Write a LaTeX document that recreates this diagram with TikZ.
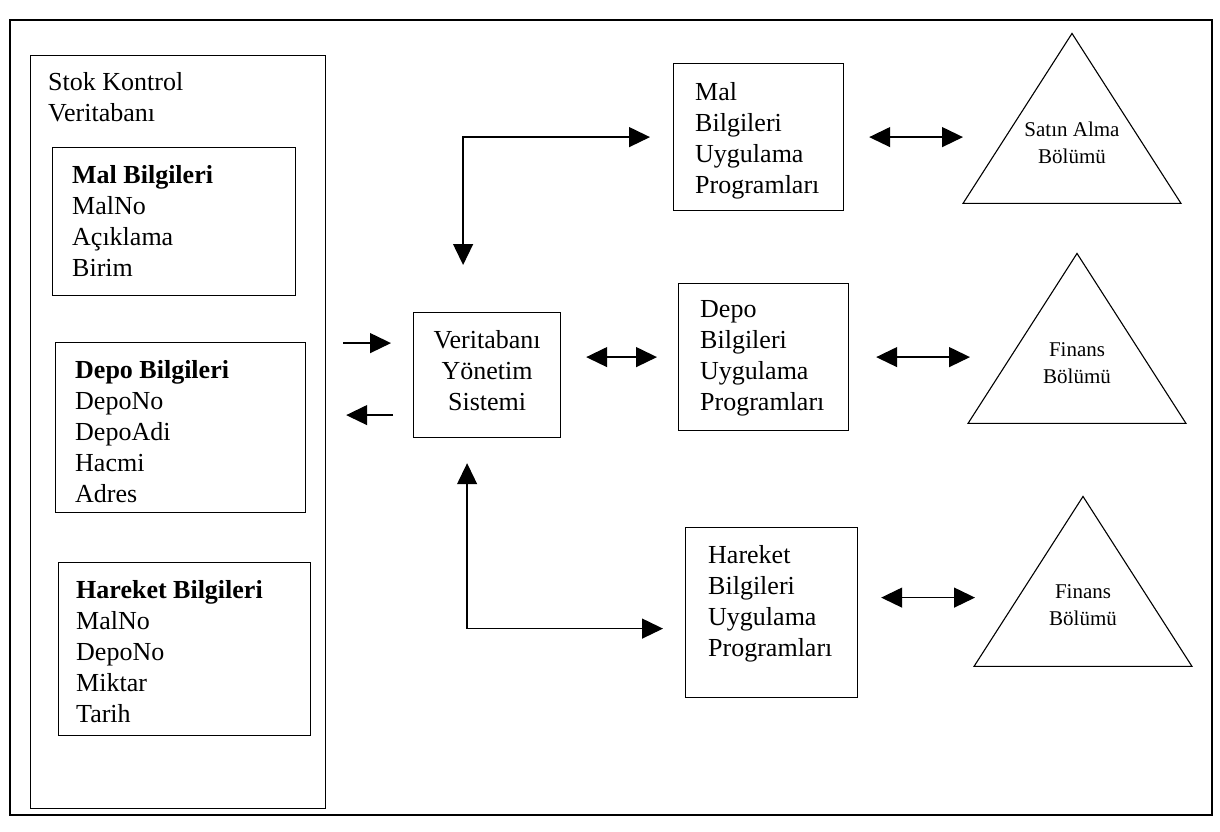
\documentclass[tikz,border=0pt]{standalone}
\usepackage{fontspec}
\setmainfont{Liberation Serif}
\usetikzlibrary{arrows.meta,positioning,shapes.geometric,calc}

\tikzset{
	box/.style={draw, line width=1.2pt, anchor=north west, inner sep=0pt},
	fields/.style={align=left, inner sep=0pt, font=\fontsize{26}{31}\selectfont},
	tri/.style={draw, line width=1.1pt, isosceles triangle, isosceles triangle stretches,
		shape border rotate=90, minimum width=218pt, minimum height=170pt, inner sep=0pt, anchor=apex},
	trilabel/.style={align=center, inner sep=0pt, font=\fontsize{21}{27}\selectfont},
	arr/.style={line width=1.3pt, -{Triangle[length=21pt,width=20pt]}},
	dbl/.style={line width=1.3pt, {Triangle[length=21pt,width=20pt]}-{Triangle[length=21pt,width=20pt]}}
}

\begin{document}
\begin{tikzpicture}[x=1pt,y=-1pt]
	\useasboundingbox (0,0) rectangle (1220,832);
	\draw[line width=1.8pt] (10,20) rectangle (1212,815);

	\node[box,minimum width=295pt,minimum height=753pt] (db) at (30,55) {};
	\node[fields,below right=17pt and 18pt of db.north west] (db-t) {Stok Kontrol\\Veritabanı};
	\node[box,minimum width=243pt,minimum height=148pt] (mal) at (52,147) {};
	\node[fields,below right=18pt and 20pt of mal.north west] (mal-t) {\textbf{Mal Bilgileri}\\MalNo\\Açıklama\\Birim};
	\node[box,minimum width=250pt,minimum height=170pt] (depo) at (55,342) {};
	\node[fields,below right=18pt and 20pt of depo.north west] (depo-t) {\textbf{Depo Bilgileri}\\DepoNo\\DepoAdi\\Hacmi\\Adres};
	\node[box,minimum width=252pt,minimum height=173pt] (har) at (58,562) {};
	\node[fields,below right=18pt and 18pt of har.north west] (har-t) {\textbf{Hareket Bilgileri}\\MalNo\\DepoNo\\Miktar\\Tarih};

	\node[box,minimum width=147pt,minimum height=125pt] (vys) at (413,312) {};
	\node[fields,align=center,below=18pt of vys.north] (vys-t) {Veritabanı\\Yönetim\\Sistemi};

	\node[box,minimum width=170pt,minimum height=147pt] (malapp) at (673,63) {};
	\node[fields,below right=19pt and 22pt of malapp.north west] (malapp-t) {Mal\\Bilgileri\\Uygulama\\Programları};
	\node[box,minimum width=170pt,minimum height=147pt] (depoapp) at (678,283) {};
	\node[fields,below right=17pt and 22pt of depoapp.north west] (depoapp-t) {Depo\\Bilgileri\\Uygulama\\Programları};
	\node[box,minimum width=172pt,minimum height=170pt] (harapp) at (685,527) {};
	\node[fields,below right=18pt and 23pt of harapp.north west] (harapp-t) {Hareket\\Bilgileri\\Uygulama\\Programları};

	\node[tri] (satin) at (1072,32) {};
	\node[trilabel] (satin-t) at ([yshift=-111pt]satin.apex) {Satın Alma\\Bölümü};
	\node[tri] (fin1) at (1077,252) {};
	\node[trilabel] (fin1-t) at ([yshift=-111pt]fin1.apex) {Finans\\Bölümü};
	\node[tri] (fin2) at (1083,495) {};
	\node[trilabel] (fin2-t) at ([yshift=-110pt]fin2.apex) {Finans\\Bölümü};

	\draw[arr,shorten <=17pt,shorten >=22pt] ($(db.east |- vys.west)+(0,-32)$) -- ($(vys.west)+(0,-32)$);
	\draw[arr,shorten <=20pt,shorten >=20pt] ($(vys.west)+(0,40)$) -- ($(db.east |- vys.west)+(0,40)$);

	\draw[dbl,shorten <=47pt,shorten >=23pt] ($(vys.north)+(-24,0)$) |- (malapp.west);
	\draw[dbl,shorten <=25pt,shorten >=21pt] (vys.east |- depoapp.west) -- (depoapp.west);
	\draw[dbl,shorten <=25pt,shorten >=22pt] ($(vys.south)+(-20,0)$) |- ($(harapp.west)+(0,16)$);

	\draw[dbl,shorten <=25pt,shorten >=109pt] (malapp.east) -- (malapp.east -| satin.apex);
	\draw[dbl,shorten <=27pt,shorten >=107pt] (depoapp.east) -- (depoapp.east -| fin1.apex);
	\draw[dbl,shorten <=23pt,shorten >=108pt] ($(harapp.east)+(0,-15)$) -- ($(harapp.east -| fin2.apex)+(0,-15)$);
\end{tikzpicture}
\end{document}
